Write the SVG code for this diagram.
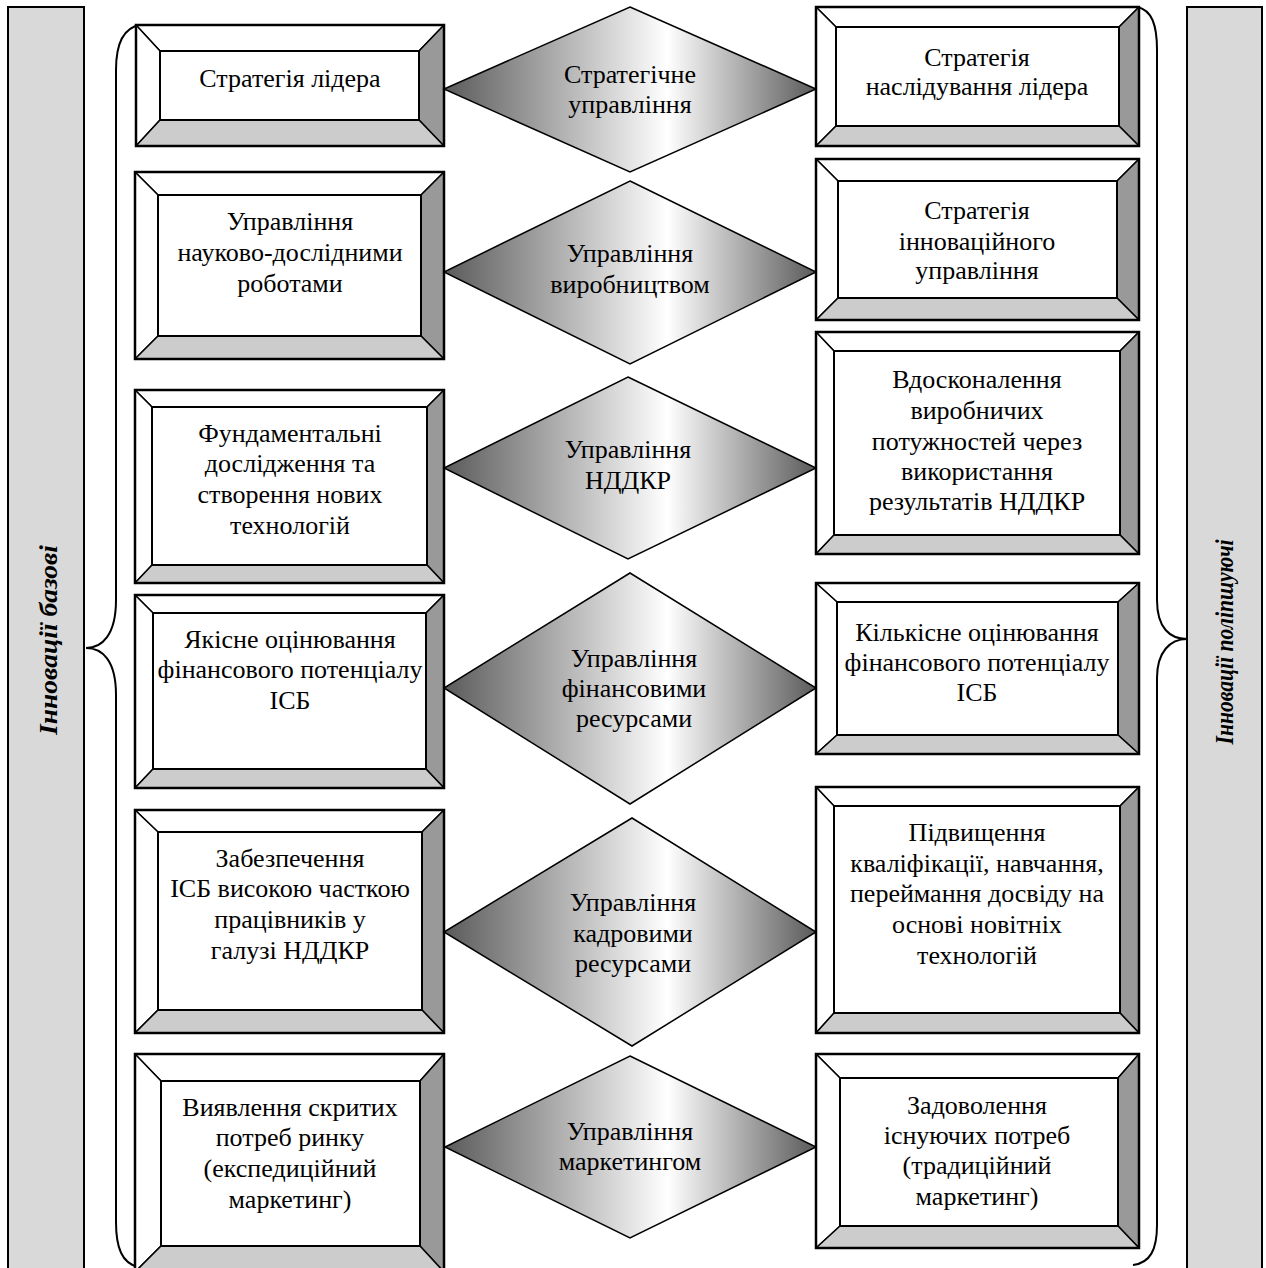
<svg xmlns="http://www.w3.org/2000/svg" width="1266" height="1268" viewBox="0 0 1266 1268">
<style>
.t{font-family:"Liberation Serif","Times New Roman",serif;font-size:26px;fill:#000;text-anchor:middle}
.bt{font-family:"Liberation Serif","Times New Roman",serif;font-weight:bold;font-style:italic;fill:#000;text-anchor:middle}
.bar{fill:#d9d9d9;stroke:#000;stroke-width:2}
.lt{fill:#fff;stroke:#000;stroke-width:1.5;stroke-linejoin:round}
.dk{fill:#999;stroke:#000;stroke-width:1.5;stroke-linejoin:round}
.md{fill:#ccc;stroke:#000;stroke-width:1.5;stroke-linejoin:round}
.in{fill:#fff;stroke:#000;stroke-width:2}
.out{fill:none;stroke:#000;stroke-width:2.5}
.dia{fill:url(#g);stroke:#000;stroke-width:1.5;stroke-linejoin:miter}
.br{fill:none;stroke:#000;stroke-width:2}
</style>
<defs>
<linearGradient id="g" x1="0" y1="0" x2="1" y2="0">
<stop offset="0" stop-color="#5a5a5a"/>
<stop offset="0.6" stop-color="#ffffff"/>
<stop offset="1" stop-color="#5a5a5a"/>
</linearGradient>
</defs>
<rect width="1266" height="1268" fill="#fff"/>

<g id="bar-left">
<rect class="bar" x="8" y="7" width="76" height="1270"/>
<text class="bt" font-size="26" textLength="190" lengthAdjust="spacingAndGlyphs" transform="translate(57,640) rotate(-90)">Інновації базові</text>
</g>
<g id="bar-right">
<rect class="bar" x="1187" y="7" width="75" height="1270"/>
<text class="bt" font-size="25" textLength="205" lengthAdjust="spacingAndGlyphs" transform="translate(1233,642) rotate(-90)">Інновації поліпшуючі</text>
</g>

<g id="connectors">
<path class="br" d="M140,25 C122,28 116,45 116,70 L116,600 C116,635 102,648 86,648 C102,648 116,660 116,695 L116,1222 C116,1248 122,1263 138,1267"/>
<path class="br" d="M1137,7 C1152,10 1157,25 1157,50 L1157,600 C1157,628 1170,639 1187,639 C1170,639 1157,652 1157,678 L1157,1225 C1157,1250 1150,1263 1133,1265"/>
</g>

<!-- left column -->
<g id="L1">
<polygon class="lt" points="136,25 444,25 419,51 160,51"/>
<polygon class="lt" points="136,25 160,51 160,120 136,146"/>
<polygon class="dk" points="444,25 444,146 419,120 419,51"/>
<polygon class="md" points="136,146 160,120 419,120 444,146"/>
<rect class="in" x="160" y="51" width="259" height="69"/>
<rect class="out" x="136" y="25" width="308" height="121"/>
<text class="t" x="290" y="87">Стратегія лідера</text>
</g>
<g id="L2">
<polygon class="lt" points="135,172 444,172 421,195 158,195"/>
<polygon class="lt" points="135,172 158,195 158,336 135,359"/>
<polygon class="dk" points="444,172 444,359 421,336 421,195"/>
<polygon class="md" points="135,359 158,336 421,336 444,359"/>
<rect class="in" x="158" y="195" width="263" height="141"/>
<rect class="out" x="135" y="172" width="309" height="187"/>
<text class="t" x="290" y="230">Управління</text>
<text class="t" x="290" y="261">науково-дослідними</text>
<text class="t" x="290" y="292">роботами</text>
</g>
<g id="L3">
<polygon class="lt" points="135,390 444,390 427,407 152,407"/>
<polygon class="lt" points="135,390 152,407 152,565 135,583"/>
<polygon class="dk" points="444,390 444,583 427,565 427,407"/>
<polygon class="md" points="135,583 152,565 427,565 444,583"/>
<rect class="in" x="152" y="407" width="275" height="158"/>
<rect class="out" x="135" y="390" width="309" height="193"/>
<text class="t" x="290" y="442">Фундаментальні</text>
<text class="t" x="290" y="472">дослідження та</text>
<text class="t" x="290" y="503">створення нових</text>
<text class="t" x="290" y="534">технологій</text>
</g>
<g id="L4">
<polygon class="lt" points="135,595 444,595 426,613 153,613"/>
<polygon class="lt" points="135,595 153,613 153,769 135,788"/>
<polygon class="dk" points="444,595 444,788 426,769 426,613"/>
<polygon class="md" points="135,788 153,769 426,769 444,788"/>
<rect class="in" x="153" y="613" width="273" height="156"/>
<rect class="out" x="135" y="595" width="309" height="193"/>
<text class="t" x="290" y="648">Якісне оцінювання</text>
<text class="t" x="290" y="678">фінансового потенціалу</text>
<text class="t" x="290" y="709">ІСБ</text>
</g>
<g id="L5">
<polygon class="lt" points="135,810 444,810 422,832 158,832"/>
<polygon class="lt" points="135,810 158,832 158,1010 135,1033"/>
<polygon class="dk" points="444,810 444,1033 422,1010 422,832"/>
<polygon class="md" points="135,1033 158,1010 422,1010 444,1033"/>
<rect class="in" x="158" y="832" width="264" height="178"/>
<rect class="out" x="135" y="810" width="309" height="223"/>
<text class="t" x="290" y="867">Забезпечення</text>
<text class="t" x="290" y="897">ІСБ високою часткою</text>
<text class="t" x="290" y="928">працівників у</text>
<text class="t" x="290" y="959">галузі НДДКР</text>
</g>
<g id="L6">
<polygon class="lt" points="135,1054 444,1054 420,1081 161,1081"/>
<polygon class="lt" points="135,1054 161,1081 161,1246 135,1272"/>
<polygon class="dk" points="444,1054 444,1272 420,1246 420,1081"/>
<polygon class="md" points="135,1272 161,1246 420,1246 444,1272"/>
<rect class="in" x="161" y="1081" width="259" height="165"/>
<rect class="out" x="135" y="1054" width="309" height="218"/>
<text class="t" x="290" y="1116">Виявлення скритих</text>
<text class="t" x="290" y="1146">потреб ринку</text>
<text class="t" x="290" y="1177">(експедиційний</text>
<text class="t" x="290" y="1208">маркетинг)</text>
</g>

<!-- diamonds -->
<g id="D1">
<polygon class="dia" points="630,7 816,89 630,172 444,89"/>
<text class="t" x="630" y="83">Стратегічне</text>
<text class="t" x="630" y="113">управління</text>
</g>
<g id="D2">
<polygon class="dia" points="630,181 816,272 630,364 444,272"/>
<text class="t" x="630" y="262">Управління</text>
<text class="t" x="630" y="293">виробництвом</text>
</g>
<g id="D3">
<polygon class="dia" points="628,377 816,468 628,559 444,468"/>
<text class="t" x="628" y="458">Управління</text>
<text class="t" x="628" y="489">НДДКР</text>
</g>
<g id="D4">
<polygon class="dia" points="630,573 816,688 630,804 444,688"/>
<text class="t" x="634" y="667">Управління</text>
<text class="t" x="634" y="697">фінансовими</text>
<text class="t" x="634" y="727">ресурсами</text>
</g>
<g id="D5">
<polygon class="dia" points="632,818 816,932 632,1046 444,932"/>
<text class="t" x="633" y="911">Управління</text>
<text class="t" x="633" y="942">кадровими</text>
<text class="t" x="633" y="972">ресурсами</text>
</g>
<g id="D6">
<polygon class="dia" points="630,1056 816,1147 630,1238 445,1147"/>
<text class="t" x="630" y="1140">Управління</text>
<text class="t" x="630" y="1170">маркетингом</text>
</g>

<!-- right column -->
<g id="R1">
<polygon class="lt" points="816,7 1139,7 1119,27 836,27"/>
<polygon class="lt" points="816,7 836,27 836,126 816,146"/>
<polygon class="dk" points="1139,7 1139,146 1119,126 1119,27"/>
<polygon class="md" points="816,146 836,126 1119,126 1139,146"/>
<rect class="in" x="836" y="27" width="283" height="99"/>
<rect class="out" x="816" y="7" width="323" height="139"/>
<text class="t" x="977" y="66">Стратегія</text>
<text class="t" x="977" y="95">наслідування лідера</text>
</g>
<g id="R2">
<polygon class="lt" points="816,159 1139,159 1117,181 838,181"/>
<polygon class="lt" points="816,159 838,181 838,298 816,320"/>
<polygon class="dk" points="1139,159 1139,320 1117,298 1117,181"/>
<polygon class="md" points="816,320 838,298 1117,298 1139,320"/>
<rect class="in" x="838" y="181" width="279" height="117"/>
<rect class="out" x="816" y="159" width="323" height="161"/>
<text class="t" x="977" y="219">Стратегія</text>
<text class="t" x="977" y="250">інноваційного</text>
<text class="t" x="977" y="279">управління</text>
</g>
<g id="R3">
<polygon class="lt" points="816,332 1139,332 1120,351 834,351"/>
<polygon class="lt" points="816,332 834,351 834,535 816,554"/>
<polygon class="dk" points="1139,332 1139,554 1120,535 1120,351"/>
<polygon class="md" points="816,554 834,535 1120,535 1139,554"/>
<rect class="in" x="834" y="351" width="286" height="184"/>
<rect class="out" x="816" y="332" width="323" height="222"/>
<text class="t" x="977" y="388">Вдосконалення</text>
<text class="t" x="977" y="419">виробничих</text>
<text class="t" x="977" y="450">потужностей через</text>
<text class="t" x="977" y="480">використання</text>
<text class="t" x="977" y="510">результатів НДДКР</text>
</g>
<g id="R4">
<polygon class="lt" points="816,583 1139,583 1118,602 837,602"/>
<polygon class="lt" points="816,583 837,602 837,735 816,754"/>
<polygon class="dk" points="1139,583 1139,754 1118,735 1118,602"/>
<polygon class="md" points="816,754 837,735 1118,735 1139,754"/>
<rect class="in" x="837" y="602" width="281" height="133"/>
<rect class="out" x="816" y="583" width="323" height="171"/>
<text class="t" x="977" y="641">Кількісне оцінювання</text>
<text class="t" x="977" y="671">фінансового потенціалу</text>
<text class="t" x="977" y="701">ІСБ</text>
</g>
<g id="R5">
<polygon class="lt" points="816,787 1139,787 1120,806 834,806"/>
<polygon class="lt" points="816,787 834,806 834,1013 816,1033"/>
<polygon class="dk" points="1139,787 1139,1033 1120,1013 1120,806"/>
<polygon class="md" points="816,1033 834,1013 1120,1013 1139,1033"/>
<rect class="in" x="834" y="806" width="286" height="207"/>
<rect class="out" x="816" y="787" width="323" height="246"/>
<text class="t" x="977" y="841">Підвищення</text>
<text class="t" x="977" y="872">кваліфікації, навчання,</text>
<text class="t" x="977" y="902">переймання досвіду на</text>
<text class="t" x="977" y="933">основі новітніх</text>
<text class="t" x="977" y="964">технологій</text>
</g>
<g id="R6">
<polygon class="lt" points="816,1054 1139,1054 1118,1078 840,1078"/>
<polygon class="lt" points="816,1054 840,1078 840,1226 816,1248"/>
<polygon class="dk" points="1139,1054 1139,1248 1118,1226 1118,1078"/>
<polygon class="md" points="816,1248 840,1226 1118,1226 1139,1248"/>
<rect class="in" x="840" y="1078" width="278" height="148"/>
<rect class="out" x="816" y="1054" width="323" height="194"/>
<text class="t" x="977" y="1114">Задоволення</text>
<text class="t" x="977" y="1144">існуючих потреб</text>
<text class="t" x="977" y="1174">(традиційний</text>
<text class="t" x="977" y="1205">маркетинг)</text>
</g>
</svg>
